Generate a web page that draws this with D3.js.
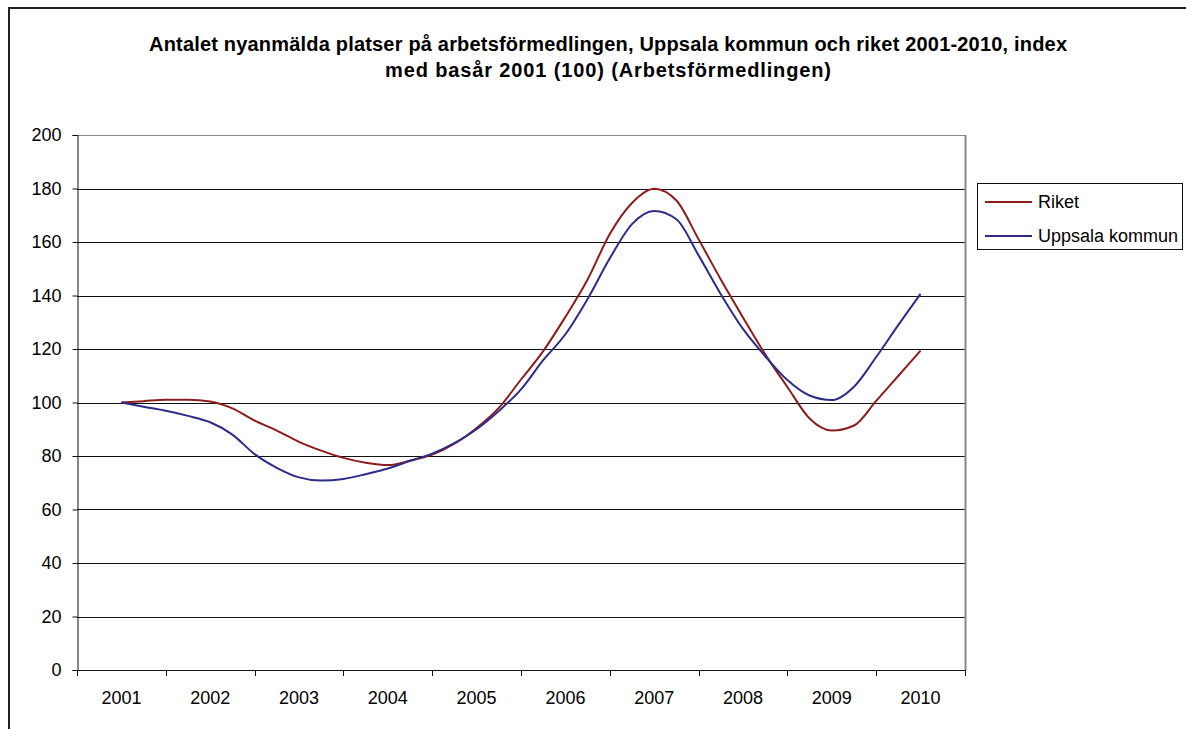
<!DOCTYPE html>
<html>
<head>
<meta charset="utf-8">
<script src="https://cdn.jsdelivr.net/npm/d3@7"></script>
<style>
    body { margin: 0; background: #fff; }
    svg { display: block; font-family: "Liberation Sans", Arial, sans-serif; }
</style>
</head>
<body>
<div id="chart"></div>
<script>
// years on the category axis
const years = ["2001", "2002", "2003", "2004", "2005", "2006", "2007", "2008", "2009", "2010"]

// quarterly index values, 2001 Q1 .. 2010 Q1
const riket = [100, 100.5, 101, 101, 100.4, 97.8, 93.2, 89.5, 85.3, 82, 79.3, 77.5, 76.6,
    78.2, 80.5, 84.6, 90.5, 98, 108.6, 119.2, 132, 146, 163, 174.6, 179.9, 175.5, 161,
    146, 131.8, 118, 105.8, 94, 89.5, 91.4, 100.6, 110, 119.4]
const uppsala = [100, 98.4, 96.9, 95, 92.6, 88, 80.7, 75.6, 72, 70.8, 71.4, 73.2, 75.3,
    78.2, 80.9, 84.8, 90, 96.8, 104.9, 115.8, 125.5, 138.7, 153.9, 166.7, 171.6, 168.5, 155,
    140.5, 127.5, 117.3, 108.4, 102.6, 100.9, 105.9, 117, 129, 140.6]

const yTicks = [0, 20, 40, 60, 80, 100, 120, 140, 160, 180, 200]

const seriesNames = ["Riket", "Uppsala kommun"]
const seriesColors = ["#8c1d1d", "#2d2d88"]

class LineChart {

    constructor(parent, width, height) {
        this.parent = parent
        this.width = width
        this.height = height
        this.plot = { left: 77, right: 965, top: 135, bottom: 670 }
    }

    init() {
        this.svg = d3.select(this.parent).append("svg")
            .attr("width", this.width)
            .attr("height", this.height)

        // outer chart frame, runs past the window on right and bottom
        this.svg.append("rect")
            .attr("x", 9).attr("y", 8)
            .attr("width", 1200).attr("height", 800)
            .attr("fill", "none")
            .attr("stroke", "#222")
            .attr("stroke-width", 2)

        this.makeScales()
        this.drawTitle()
        this.drawGrid()
        this.drawAxes()
        this.drawLines()
        this.drawLegend()
    }

    makeScales() {
        const p = this.plot
        this.xBand = d3.scaleBand().domain(years).range([p.left, p.right])
        const bw = this.xBand.bandwidth()
        // quarter index -> x, first point at centre of 2001
        this.x = d3.scaleLinear()
            .domain([0, (years.length - 1) * 4])
            .range([p.left + bw / 2, p.right - bw / 2])
        this.y = d3.scaleLinear().domain([0, 200]).range([p.bottom, p.top])
    }

    drawTitle() {
        const title = this.svg.append("g")
            .attr("font-family", "'Liberation Sans Narrow', 'Liberation Sans', Arial, sans-serif")
            .attr("font-weight", "bold")
            .attr("font-size", 20)
            .attr("text-anchor", "middle")
            .attr("fill", "#000")
        title.append("text")
            .attr("x", 608).attr("y", 51)
            .attr("textLength", 918).attr("lengthAdjust", "spacing")
            .text("Antalet nyanmälda platser på arbetsförmedlingen, Uppsala kommun och riket 2001-2010, index")
        title.append("text")
            .attr("x", 608).attr("y", 77)
            .attr("textLength", 446).attr("lengthAdjust", "spacing")
            .text("med basår 2001 (100) (Arbetsförmedlingen)")
    }

    drawGrid() {
        const p = this.plot
        this.svg.append("g")
            .selectAll("line")
            .data(yTicks.filter(d => d > 0))
            .join("line")
                .attr("x1", p.left).attr("x2", p.right)
                .attr("y1", d => Math.round(this.y(d)) + 0.5)
                .attr("y2", d => Math.round(this.y(d)) + 0.5)
                .attr("stroke", d => d == 200 ? "#888" : "#111")
                .attr("stroke-width", 1)

        // right border of plot area
        this.svg.append("line")
            .attr("x1", p.right + 0.5).attr("x2", p.right + 0.5)
            .attr("y1", p.top).attr("y2", p.bottom)
            .attr("stroke", "#888")
            .attr("stroke-width", 2)
    }

    drawAxes() {
        const p = this.plot

        const yAxis = d3.axisLeft(this.y)
            .tickValues(yTicks)
            .tickSize(5)
            .tickPadding(11)
        const gy = this.svg.append("g")
            .attr("transform", `translate(${p.left + 0.5},0)`)
            .call(yAxis)
        gy.select(".domain").attr("stroke", "#111")
        gy.selectAll(".tick line").attr("stroke", "#111")
        gy.selectAll(".tick text")
            .attr("font-size", 18)
            .attr("font-family", "Liberation Sans, Arial, sans-serif")
            .attr("fill", "#000")

        // category axis: ticks on band edges, labels in band centres
        const bounds = years.map(d => this.xBand(d)).concat([p.right])
        const gx = this.svg.append("g")
        gx.append("line")
            .attr("x1", p.left).attr("x2", p.right)
            .attr("y1", p.bottom + 0.5).attr("y2", p.bottom + 0.5)
            .attr("stroke", "#111")
        gx.selectAll(".xt")
            .data(bounds)
            .join("line")
                .attr("class", "xt")
                .attr("x1", d => Math.round(d) + 0.5).attr("x2", d => Math.round(d) + 0.5)
                .attr("y1", p.bottom).attr("y2", p.bottom + 6)
                .attr("stroke", "#111")
        gx.selectAll("text")
            .data(years)
            .join("text")
                .attr("x", d => this.xBand(d) + this.xBand.bandwidth() / 2)
                .attr("y", p.bottom + 34)
                .attr("text-anchor", "middle")
                .attr("font-size", 18)
                .text(d => d)
    }

    drawLines() {
        const line = d3.line()
            .x((d, i) => this.x(i))
            .y(d => this.y(d))
            .curve(d3.curveMonotoneX)

        this.svg.append("g")
            .selectAll("path")
            .data([riket, uppsala])
            .join("path")
                .attr("d", line)
                .attr("fill", "none")
                .attr("stroke", (d, i) => seriesColors[i])
                .attr("stroke-width", 2)
                .attr("stroke-linejoin", "round")
    }

    drawLegend() {
        const lg = this.svg.append("g")
        lg.append("rect")
            .attr("x", 977.5).attr("y", 183.5)
            .attr("width", 205).attr("height", 66)
            .attr("fill", "#fff")
            .attr("stroke", "#111")

        const items = lg.selectAll(".item")
            .data(seriesNames)
            .join("g")
                .attr("class", "item")
                .attr("transform", (d, i) => `translate(985,${202 + i * 34})`)
        items.append("line")
            .attr("x1", 0).attr("x2", 47)
            .attr("stroke", (d, i) => seriesColors[i])
            .attr("stroke-width", 2)
        items.append("text")
            .attr("x", 53).attr("y", 6)
            .attr("font-size", 18)
            .text(d => d)
    }
}

const chart = new LineChart("#chart", 1186, 729)
chart.init()
</script>
</body>
</html>
